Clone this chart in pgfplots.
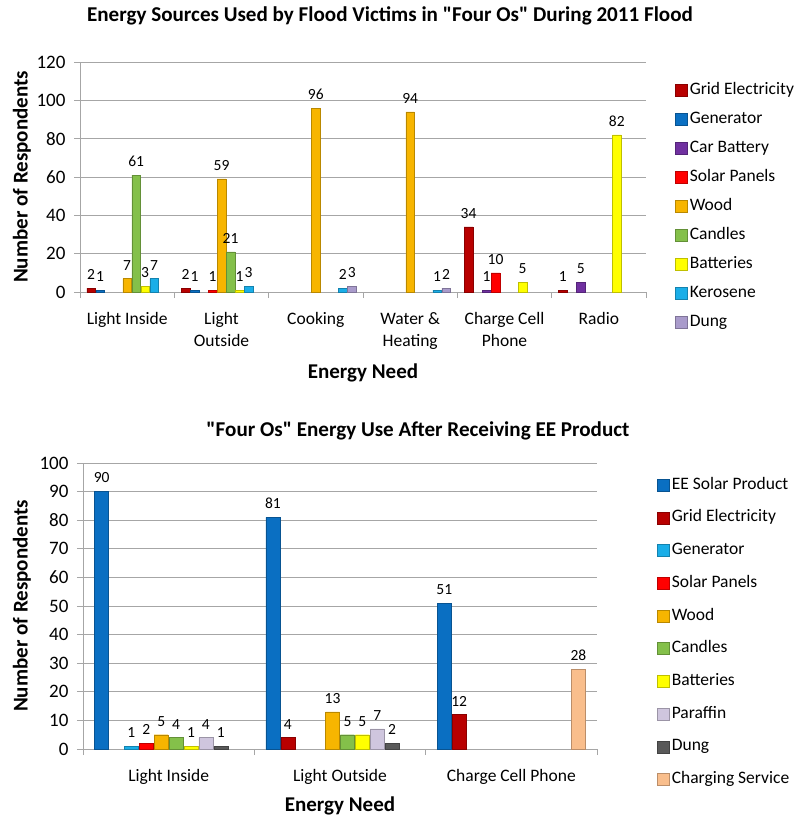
\documentclass[border=0pt]{standalone}
\usepackage{pgfplots}
\pgfplotsset{compat=1.18}
\usepackage{fontspec}
\setmainfont{Carlito}

\definecolor{cGrid}{HTML}{B80000}
\definecolor{cGen}{HTML}{0A6FC2}
\definecolor{cCar}{HTML}{7030A0}
\definecolor{cSolar}{HTML}{FF0000}
\definecolor{cWood}{HTML}{F7B500}
\definecolor{cCandle}{HTML}{84C04A}
\definecolor{cBatt}{HTML}{FFFF00}
\definecolor{cKero}{HTML}{1AAEE8}
\definecolor{cDung}{HTML}{A99BCB}
\definecolor{cPara}{HTML}{CFC6DE}
\definecolor{cDungB}{HTML}{595959}
\definecolor{cCharge}{HTML}{F9BE8C}
\definecolor{gridgray}{HTML}{A6A6A6}

\pgfplotsset{
  commonstyle/.style={
    scale only axis,
    axis x line*=bottom, axis y line*=left,
    axis line style={gridgray, line width=0.8pt},
    ymajorgrids, major grid style={gridgray, line width=0.9pt},
    tick align=outside, major tick length=6pt,
    tick style={gridgray, line width=0.8pt},
    /pgf/number format/assume math mode=true,
    yticklabel style={font=\fontsize{19}{19}\selectfont, text=black, xshift=-5pt},
    xticklabels={},
    xticklabel style={font=\fontsize{17.5}{22}\selectfont, align=center, text=black, anchor=north, yshift=-17pt},
    extra x tick style={major tick length=0pt, grid=none},
    nodes near coords,
    every node near coord/.append style={font=\fontsize{15.5}{15.5}\selectfont, text=black, anchor=south, yshift=5pt},
    legend cell align=left,
    title style={font=\bfseries\fontsize{21.1}{21.1}\selectfont, anchor=center},
    xlabel style={font=\bfseries\fontsize{21}{21}\selectfont, anchor=center},
    ylabel style={font=\bfseries\fontsize{21}{21}\selectfont, anchor=center},
  },
  sqlegend/.style={
    legend image code/.code={\draw[##1, line width=0.6pt] (0pt,-6pt) rectangle (12pt,6pt);},
  },
  bs/.style={fill=#1, draw=#1!75!black},
}

\begin{document}
\begin{tikzpicture}
\useasboundingbox (0,0) rectangle (793pt,-821pt);

% ---------- Top chart ----------
\begin{axis}[
  commonstyle,
  at={(80pt,-292pt)}, anchor=south west,
  width=566pt, height=230pt,
  ymin=0, ymax=120, ytick={0,20,...,120},
  xmin=-0.5, xmax=5.5,
  xtick={-0.5,0.5,...,5.5},
  extra x ticks={0,1,2,3,4,5},
  extra x tick labels={Light Inside,{Light\\Outside},Cooking,{Water \&\\Heating},{Charge Cell\\Phone},Radio},
  ybar=0.4pt, bar width=8.6pt,
  sqlegend,
  title={Energy Sources Used by Flood Victims in \textquotedbl Four Os\textquotedbl\ During 2011 Flood},
  title style={at={(0.5,1)}, xshift=27pt, yshift=40pt},
  xlabel={Energy Need},
  xlabel style={at={(0.5,0)}, yshift=-81pt},
  ylabel={Number of Respondents},
  ylabel style={at={(axis description cs:{-58/566},0.5)}},
  legend style={at={({(672-80)/566},{(292-79)/230})}, anchor=north west, draw=none, fill=none,
    font=\fontsize{17.5}{17.5}\selectfont, row sep=11pt,
    nodes={text height=12pt, text depth=4pt, inner sep=1pt},
    /tikz/every odd column/.append style={column sep=1pt}},
]
\addplot[bs=cGrid] coordinates {(0,2) (1,2) (4,34) (5,1)};
\addlegendentry{Grid Electricity}
\addplot[bs=cGen] coordinates {(0,1) (1,1)};
\addlegendentry{Generator}
\addplot[bs=cCar] coordinates {(4,1) (5,5)};
\addlegendentry{Car Battery}
\addplot[bs=cSolar] coordinates {(1,1) (4,10)};
\addlegendentry{Solar Panels}
\addplot[bs=cWood] coordinates {(0,7) (1,59) (2,96) (3,94)};
\addlegendentry{Wood}
\addplot[bs=cCandle] coordinates {(0,61) (1,21)};
\addlegendentry{Candles}
\addplot[bs=cBatt] coordinates {(0,3) (1,1) (4,5) (5,82)};
\addlegendentry{Batteries}
\addplot[bs=cKero] coordinates {(0,7) (1,3) (2,2) (3,1)};
\addlegendentry{Kerosene}
\addplot[bs=cDung] coordinates {(2,3) (3,2)};
\addlegendentry{Dung}
\end{axis}

% ---------- Bottom chart ----------
\begin{axis}[
  commonstyle,
  at={(83pt,-749pt)}, anchor=south west,
  width=514pt, height=286pt,
  ymin=0, ymax=100, ytick={0,10,...,100},
  xmin=-0.5, xmax=2.5,
  xtick={-0.5,0.5,...,2.5},
  extra x ticks={0,1,2},
  extra x tick labels={Light Inside,Light Outside,Charge Cell Phone},
  ybar=0.9pt, bar width=14pt,
  sqlegend,
  title={\textquotedbl Four Os\textquotedbl\ Energy Use After Receiving EE Product},
  title style={at={(0.5,1)}, xshift=78pt, yshift=26pt},
  xlabel={Energy Need},
  xlabel style={at={(0.5,0)}, yshift=-57pt},
  ylabel={Number of Respondents},
  ylabel style={at={(axis description cs:{-61/514},0.5)}},
  legend style={at={({(654-83)/514},{(749-474)/286})}, anchor=north west, draw=none, fill=none,
    font=\fontsize{17.5}{17.5}\selectfont, row sep=14.7pt,
    nodes={text height=12pt, text depth=4pt, inner sep=1pt},
    /tikz/every odd column/.append style={column sep=1pt}},
]
\addplot[bs=cGen] coordinates {(0,90) (1,81) (2,51)};
\addlegendentry{EE Solar Product}
\addplot[bs=cGrid] coordinates {(1,4) (2,12)};
\addlegendentry{Grid Electricity}
\addplot[bs=cKero] coordinates {(0,1)};
\addlegendentry{Generator}
\addplot[bs=cSolar] coordinates {(0,2)};
\addlegendentry{Solar Panels}
\addplot[bs=cWood] coordinates {(0,5) (1,13)};
\addlegendentry{Wood}
\addplot[bs=cCandle] coordinates {(0,4) (1,5)};
\addlegendentry{Candles}
\addplot[bs=cBatt] coordinates {(0,1) (1,5)};
\addlegendentry{Batteries}
\addplot[bs=cPara] coordinates {(0,4) (1,7)};
\addlegendentry{Paraffin}
\addplot[bs=cDungB] coordinates {(0,1) (1,2)};
\addlegendentry{Dung}
\addplot[bs=cCharge] coordinates {(2,28)};
\addlegendentry{Charging Service}
\end{axis}
\end{tikzpicture}
\end{document}
